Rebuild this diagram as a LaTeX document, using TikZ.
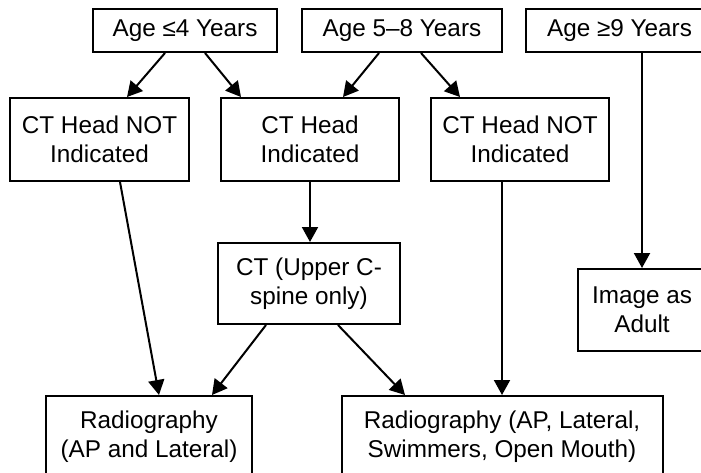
\documentclass[tikz,border=0pt]{standalone}
\usepackage{fontspec}
\setmainfont{Liberation Sans}
\usetikzlibrary{arrows.meta}
\begin{document}
\begin{tikzpicture}[x=1pt,y=-1pt,
  box/.style={draw=black,line width=2pt,align=center,inner sep=0pt,
    font=\fontsize{24.3}{29.2}\selectfont},
  conn/.style={line width=2pt,-{Triangle[length=15pt,width=16pt]}}]
\useasboundingbox (0,0) rectangle (701,473);
\fill[white] (0,0) rectangle (701,473);
\node[box,minimum width=184pt,minimum height=43pt] (A1) at (185,30.5) {Age ≤4 Years};
\node[box,minimum width=200pt,minimum height=43pt] (A2) at (402,30.5) {Age 5–8 Years};
\node[box,minimum width=187pt,minimum height=43pt] (A3) at (619.5,30.5) {Age ≥9 Years};
\node[box,minimum width=179pt,minimum height=83pt] (B1) at (99.5,139.5) {CT Head NOT\\Indicated};
\node[box,minimum width=178pt,minimum height=83pt] (B2) at (310,139.5) {CT Head\\Indicated};
\node[box,minimum width=178pt,minimum height=83pt] (B3) at (520,139.5) {CT Head NOT\\Indicated};
\node[box,minimum width=182pt,minimum height=81pt] (C) at (309,283.5) {CT (Upper C-\\spine only)};
\node[box,minimum width=128pt,minimum height=82pt] (D) at (642,310) {Image as\\Adult};
\node[box,minimum width=206pt,minimum height=82pt] (E1) at (149,437) {Radiography\\(AP and Lateral)};
\node[box,minimum width=321pt,minimum height=82pt] (E2) at (502,437) {Radiography (AP, Lateral,\\Swimmers, Open Mouth)};
\draw[conn] ([xshift=-20pt]A1.south) -- ([xshift=27.5pt]B1.north);
\draw[conn] ([xshift=20pt]A1.south) -- ([xshift=-69pt]B2.north);
\draw[conn] ([xshift=-23pt]A2.south) -- ([xshift=33pt]B2.north);
\draw[conn] ([xshift=19pt]A2.south) -- ([xshift=-60pt]B3.north);
\draw[conn] (D.north |- A3.south) -- (D.north);
\draw[conn] ([xshift=20.5pt]B1.south) -- ([xshift=10pt]E1.north);
\draw[conn] (B2.south) -- (B2.south |- C.north);
\draw[conn] ([xshift=-43pt]C.south) -- ([xshift=63pt]E1.north);
\draw[conn] ([xshift=29pt]C.south) -- ([xshift=-97pt]E2.north);
\draw[conn] (E2.north |- B3.south) -- (E2.north);
\end{tikzpicture}
\end{document}
